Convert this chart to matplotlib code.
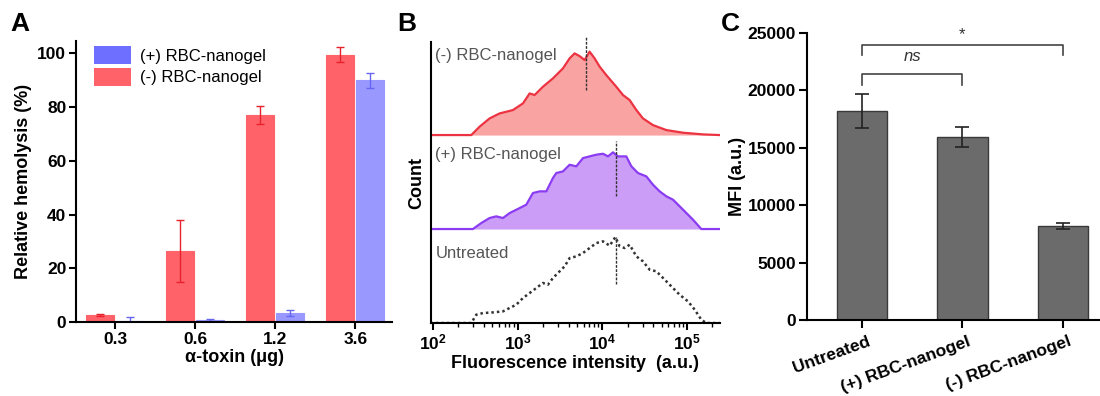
import numpy as np
import matplotlib
matplotlib.use('Agg')
import matplotlib.pyplot as plt
import matplotlib.transforms as mtransforms
from matplotlib.patches import Patch

plt.rcParams['font.family'] = ['Liberation Sans', 'DejaVu Sans']
plt.rcParams['mathtext.fontset'] = 'custom'
plt.rcParams['mathtext.rm'] = 'Liberation Sans'
plt.rcParams['mathtext.bf'] = 'Liberation Sans:bold'
plt.rcParams['axes.linewidth'] = 1.5

# ---- panel A data ----
toxin = ['0.3', '0.6', '1.2', '3.6']
minus_hemo = [2.5, 26.5, 77.0, 99.5]
minus_err = [0.4, 11.5, 3.3, 2.8]
plus_hemo = [0.5, 0.7, 3.2, 90.0]
plus_err = [1.2, 0.4, 1.1, 2.8]

# ---- panel B data (log10 intensity, normalised count) ----
minus_logx = [1.969, 2.453, 2.551, 2.669, 2.787, 2.945, 3.063, 3.142, 3.201, 3.299,
              3.417, 3.535, 3.614, 3.673, 3.732, 3.791, 3.850, 3.909, 3.969, 4.047,
              4.165, 4.244, 4.323, 4.402, 4.480, 4.598, 4.756, 4.953, 5.189, 5.386]
minus_cnt = [0, 0, 0.089, 0.177, 0.230, 0.266, 0.337, 0.443, 0.426, 0.514,
             0.603, 0.709, 0.816, 0.869, 0.840, 0.798, 0.887, 0.816, 0.727, 0.638,
             0.514, 0.426, 0.372, 0.266, 0.177, 0.106, 0.053, 0.025, 0.007, 0]
plus_logx = [1.969, 2.472, 2.571, 2.669, 2.748, 2.827, 2.906, 3.024, 3.102, 3.181,
             3.260, 3.339, 3.417, 3.457, 3.535, 3.614, 3.693, 3.772, 3.850, 3.929,
             4.008, 4.067, 4.126, 4.185, 4.283, 4.343, 4.421, 4.520, 4.598, 4.677,
             4.756, 4.835, 4.953, 5.071, 5.169, 5.386]
plus_cnt = [0, 0, 0.064, 0.117, 0.135, 0.117, 0.170, 0.223, 0.259, 0.383,
            0.401, 0.401, 0.543, 0.596, 0.613, 0.684, 0.667, 0.755, 0.773, 0.791,
            0.801, 0.773, 0.816, 0.773, 0.773, 0.667, 0.596, 0.560, 0.472, 0.401,
            0.348, 0.312, 0.206, 0.099, 0, 0]
untr_logx = [1.969, 2.453, 2.512, 2.591, 2.709, 2.827, 2.906, 2.984, 3.063, 3.142,
             3.220, 3.299, 3.358, 3.417, 3.496, 3.555, 3.614, 3.693, 3.772, 3.850,
             3.929, 4.008, 4.087, 4.154, 4.205, 4.264, 4.323, 4.402, 4.480, 4.559,
             4.638, 4.717, 4.815, 4.913, 5.012, 5.091, 5.169, 5.228, 5.386]
untr_cnt = [0, 0, 0.089, 0.106, 0.113, 0.124, 0.160, 0.195, 0.266, 0.319,
            0.372, 0.426, 0.408, 0.479, 0.550, 0.603, 0.691, 0.709, 0.745, 0.798,
            0.851, 0.869, 0.823, 0.915, 0.816, 0.798, 0.833, 0.709, 0.656, 0.567,
            0.550, 0.479, 0.390, 0.301, 0.230, 0.142, 0.035, 0, 0]
medians = [6500, 14400, 14400]

# ---- panel C data ----
groups = ['Untreated', '(+) RBC-nanogel', '(-) RBC-nanogel']
mfi = [18200, 15950, 8200]
mfi_err = [1450, 900, 250]

red = '#FF6268'
red_dark = '#E8222C'
blue = '#9898FF'
blue_dark = '#6666F2'

fig = plt.figure(figsize=(11, 3.96), dpi=100)

# ================= A =================
ax = fig.add_axes([0.0691, 0.1869, 0.2873, 0.7096])
x = np.arange(len(toxin))
ax.bar(x - 0.19, minus_hemo, 0.35, color=red, edgecolor=red, linewidth=0.8,
       yerr=minus_err, error_kw=dict(ecolor=red_dark, elinewidth=1, capsize=3, capthick=1))
ax.bar(x + 0.19, plus_hemo, 0.35, color=blue, edgecolor=blue, linewidth=0.8,
       yerr=plus_err, error_kw=dict(ecolor=blue_dark, elinewidth=1, capsize=3, capthick=1))
ax.set_xlim(-0.49, 3.46)
ax.set_ylim(0, 104.6)
ax.set_yticks([0, 20, 40, 60, 80, 100])
ax.set_xticks(x)
ax.set_xticklabels(toxin)
for s in ['top', 'right']:
    ax.spines[s].set_visible(False)
ax.tick_params(width=1.5, length=5, labelsize=12.5, pad=2)
for lab in ax.get_xticklabels() + ax.get_yticklabels():
    lab.set_fontweight('bold')
ax.set_ylabel('Relative hemolysis (%)', fontsize=13, fontweight='bold', labelpad=4)
ax.set_xlabel('α-toxin (μg)', fontsize=13, fontweight='bold', labelpad=2)
handles = [Patch(facecolor='#6E6EFF', edgecolor='none', label='(+) RBC-nanogel'),
           Patch(facecolor=red, edgecolor='none', label='(-) RBC-nanogel')]
leg = ax.legend(handles=handles, loc='upper left', bbox_to_anchor=(0.01, 1.035), frameon=False,
                fontsize=12, handlelength=2.2, handleheight=1.25, handletextpad=0.55,
                labelspacing=0.25)

# ================= B =================
bx = fig.add_axes([0.3915, 0.1843, 0.263, 0.7096])
bx.set_xscale('log')
curves = [(minus_logx, minus_cnt, 2, '#F9A3A3', '#EC3342'),
          (plus_logx, plus_cnt, 1, '#CB9DF7', '#8B3CF2')]
for lx, cnt, base, fc, lc in curves:
    xv = 10 ** np.array(lx)
    yv = base + np.array(cnt)
    bx.fill_between(xv, base, yv, color=fc, lw=0)
    bx.plot(xv, yv, color=lc, lw=1.6)
bx.plot(10 ** np.array(untr_logx), np.array(untr_cnt), color='#333333', lw=1.8,
        ls=(0, (1, 1.2)))
bx.plot([medians[0]] * 2, [2.479, 3.05], color='#333333', lw=1, ls=(0, (2, 1)), clip_on=False)
bx.plot([medians[1]] * 2, [1.355, 1.933], color='#333333', lw=1, ls=(0, (2, 1)))
bx.plot([medians[2]] * 2, [0.418, 0.915], color='#333333', lw=1, ls=(0, (2, 1)))
bx.set_xlim(10 ** 1.973, 10 ** 5.389)
bx.set_ylim(0, 2.99)
bx.set_yticks([])
for s in ['top', 'right']:
    bx.spines[s].set_visible(False)
bx.set_xticks([1e2, 1e3, 1e4, 1e5])
bx.set_xticklabels([r'$\mathbf{10^{2}}$', r'$\mathbf{10^{3}}$', r'$\mathbf{10^{4}}$',
                    r'$\mathbf{10^{5}}$'])
bx.tick_params(axis='x', which='major', width=1.5, length=5, labelsize=12.5, pad=2)
bx.tick_params(axis='x', which='minor', width=1, length=3)
bx.set_xlabel('Fluorescence intensity  (a.u.)', fontsize=13, fontweight='bold', labelpad=2)
bx.set_ylabel('Count', fontsize=13, fontweight='bold', labelpad=4)
lab_x = 10 ** 2.03
bx.text(lab_x, 2.85, '(-) RBC-nanogel', fontsize=12, color='#555555', va='center')
bx.text(lab_x, 1.79, '(+) RBC-nanogel', fontsize=12, color='#555555', va='center')
bx.text(lab_x, 0.745, 'Untreated', fontsize=12, color='#555555', va='center')

# ================= C =================
cx = fig.add_axes([0.7336, 0.1919, 0.2664, 0.7247])
xc = np.arange(len(groups))
cx.bar(xc, mfi, 0.5, color='#6B6B6B', edgecolor='#3A3A3A', linewidth=1,
       yerr=mfi_err, error_kw=dict(ecolor='#222222', elinewidth=1.2, capsize=5, capthick=1.2))
cx.set_xlim(-0.547, 2.368)
cx.set_ylim(0, 25000)
cx.set_yticks([0, 5000, 10000, 15000, 20000, 25000])
cx.set_xticks(xc)
cx.set_xticklabels(groups, rotation=20, ha='right', rotation_mode='anchor')
for s in ['top', 'right']:
    cx.spines[s].set_visible(False)
cx.tick_params(width=1.5, length=6, labelsize=12.5, pad=2)
cx.tick_params(axis='x', pad=4)
shift = mtransforms.ScaledTranslation(5 / 100, 0, fig.dpi_scale_trans)
for lab in cx.get_xticklabels():
    lab.set_transform(lab.get_transform() + shift)
for lab in cx.get_xticklabels() + cx.get_yticklabels():
    lab.set_fontweight('bold')
cx.set_ylabel('MFI (a.u.)', fontsize=13, fontweight='bold', labelpad=1)

# significance brackets
def bracket(ax, x0, x1, y, h, txt, style, ty):
    ax.plot([x0, x0, x1, x1], [y - h, y, y, y - h], color='#444444', lw=1.2, clip_on=False)
    ax.text((x0 + x1) / 2, ty, txt, ha='center', va='center', fontsize=12,
            style=style, color='#333333')

bracket(cx, 0, 1, 21430, 960, 'ns', 'italic', 22950)
bracket(cx, 0, 2, 23950, 850, '*', 'normal', 24900)

fig.text(0.009, 0.94, 'A', fontsize=19, fontweight='bold', va='center')
fig.text(0.361, 0.94, 'B', fontsize=19, fontweight='bold', va='center')
fig.text(0.655, 0.94, 'C', fontsize=19, fontweight='bold', va='center')

fig.savefig('out.png', dpi=100)
